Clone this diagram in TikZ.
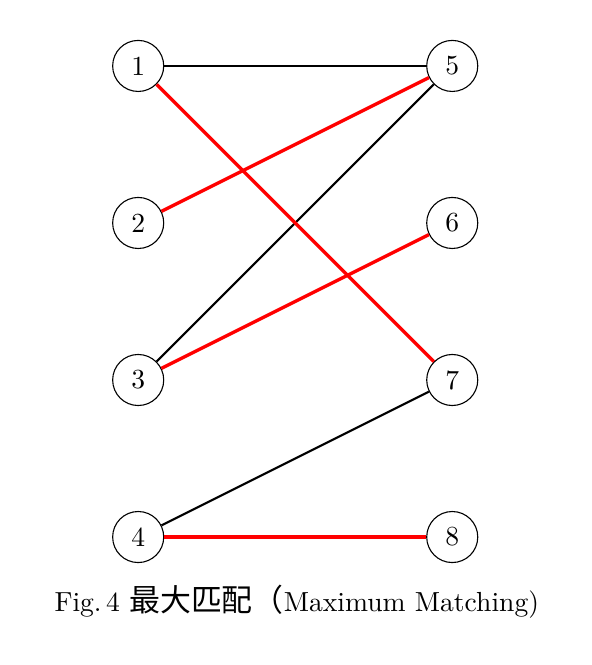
\documentclass[tikz,border=0pt]{standalone}
\usepackage{fontspec}
\newfontfamily\cjk[Scale=1.12]{Noto Sans CJK SC}
\begin{document}
\begin{tikzpicture}[
  vtx/.style={circle,draw,thin,minimum size=18.5pt,inner sep=0pt},
  plain/.style={draw=black,thick},
  match/.style={draw=red,very thick}]
\useasboundingbox (-1.76,0.84) rectangle (5.78,-7.63);
\node[vtx] (n1) at (0,0) {1};
\node[vtx] (n2) at (0,-2) {2};
\node[vtx] (n3) at (0,-4) {3};
\node[vtx] (n4) at (0,-6) {4};
\node[vtx] (n5) at (4,0) {5};
\node[vtx] (n6) at (4,-2) {6};
\node[vtx] (n7) at (4,-4) {7};
\node[vtx] (n8) at (4,-6) {8};
\draw[plain] (n1) -- (n5);
\draw[plain] (n3) -- (n5);
\draw[plain] (n4) -- (n7);
\draw[match] (n1) -- (n7);
\draw[match] (n2) -- (n5);
\draw[match] (n3) -- (n6);
\draw[match] (n4) -- (n8);
\node (cap) at (2.02,-6.82) {Fig.\,4 {\cjk 最大匹配（}Maximum Matching)};
\end{tikzpicture}
\end{document}
